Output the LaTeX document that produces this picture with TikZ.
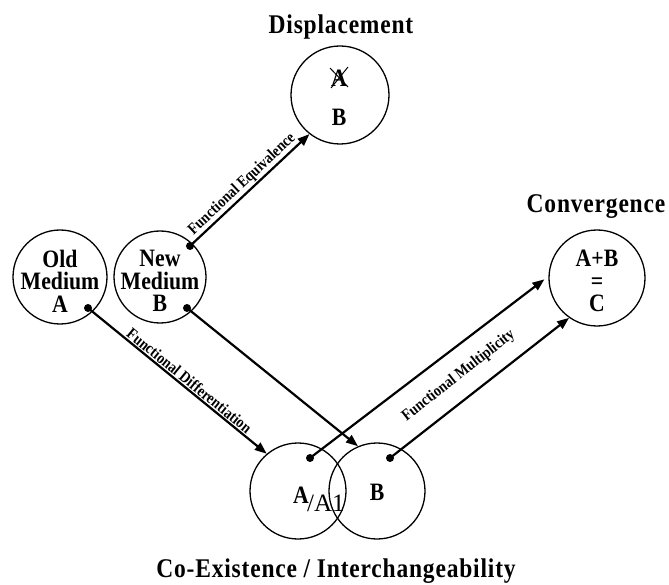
\documentclass[tikz,border=0pt]{standalone}
\usepackage{fontspec}
\setmainfont{Liberation Serif}
\newfontfamily\narrowfont[FakeStretch=0.87]{Liberation Serif}
\newfontfamily\titlefont[FakeStretch=0.87,LetterSpace=3]{Liberation Serif}
\usetikzlibrary{arrows.meta}
\begin{document}
\begin{tikzpicture}[x=1pt,y=-1pt,
  circ/.style={circle,draw,line width=1.3pt,inner sep=0pt,minimum size=#1},
  ctext/.style={font=\narrowfont\fontsize{25}{22.5}\selectfont\bfseries, align=center, inner sep=0pt},
  title/.style={font=\titlefont\fontsize{27}{30}\selectfont\bfseries, inner sep=0pt, anchor=base},
  flabel/.style={font=\narrowfont\fontsize{16}{16}\selectfont\bfseries, inner sep=1pt, sloped},
  conn/.style={line width=2.2pt, -{Triangle[length=12pt,width=9pt]}},
  dotn/.style={circle, fill, inner sep=0pt, minimum size=8pt}
]
\useasboundingbox (0,0) rectangle (669,585);
% circles
\node[circ=94] (old) at (60,277) {};
\node[circ=92] (new) at (160,277) {};
\node[circ=98] (disp) at (340,95) {};
\node[circ=96] (conv) at (597,278) {};
\node[circ=96] (co1) at (298,491) {};
\node[circ=96] (co2) at (377,491) {};
% titles
\node[title] (tdisp) at (341,34) {Displacement};
\node[title] (tconvt) at (596,213) {Convergence};
\node[title] (tco) at (336,577) {Co-Existence / Interchangeability};
% circle texts
\node[ctext] (told) at (60,281) {Old\\Medium\\A};
\node[ctext] (tnew) at (160,281) {New\\Medium\\B};
\node[ctext] (tconv) at (597,281) {A+B\\=\\C};
\node[ctext] (dA) at (339,78) {A};
\node[ctext] (dB) at (339,117) {B};
\draw[line width=1pt] (dA.center) ++(-9,-10) -- ++(18,19);
\draw[line width=1pt] (dA.center) ++(9,-11) -- ++(-17,21);
\node[ctext] (cA) at (301,495) {A};
\node[font=\fontsize{25}{25}\selectfont, inner sep=0pt, anchor=base west] (cA1) at (307,511) {/A1};
\node[ctext] (cB) at (377,492) {B};
% dots
\node[dotn] (dfe) at (190,246) {};
\node[dotn] (do) at (88,308) {};
\node[dotn] (dn) at (187,308) {};
\node[dotn] (dc1) at (310,458) {};
\node[dotn] (dc2) at (390,458) {};
% connectors
\draw[conn] (dfe.center) -- node[flabel, pos=0.49, above] (lfe) {Functional Equivalence} (disp.232);
\draw[conn] (do.center) -- node[flabel, pos=0.54, above] (lfd) {Functional Differentiation} (co1.130);
\draw[conn] (dn.center) -- (co2.113);
\draw[conn, shorten >=5pt] (dc1.center) -- (conv.178);
\draw[conn] (dc2.center) -- node[flabel, pos=0.46, above=13pt] (lfm) {Functional Multiplicity} (conv.235);
\end{tikzpicture}
\end{document}
